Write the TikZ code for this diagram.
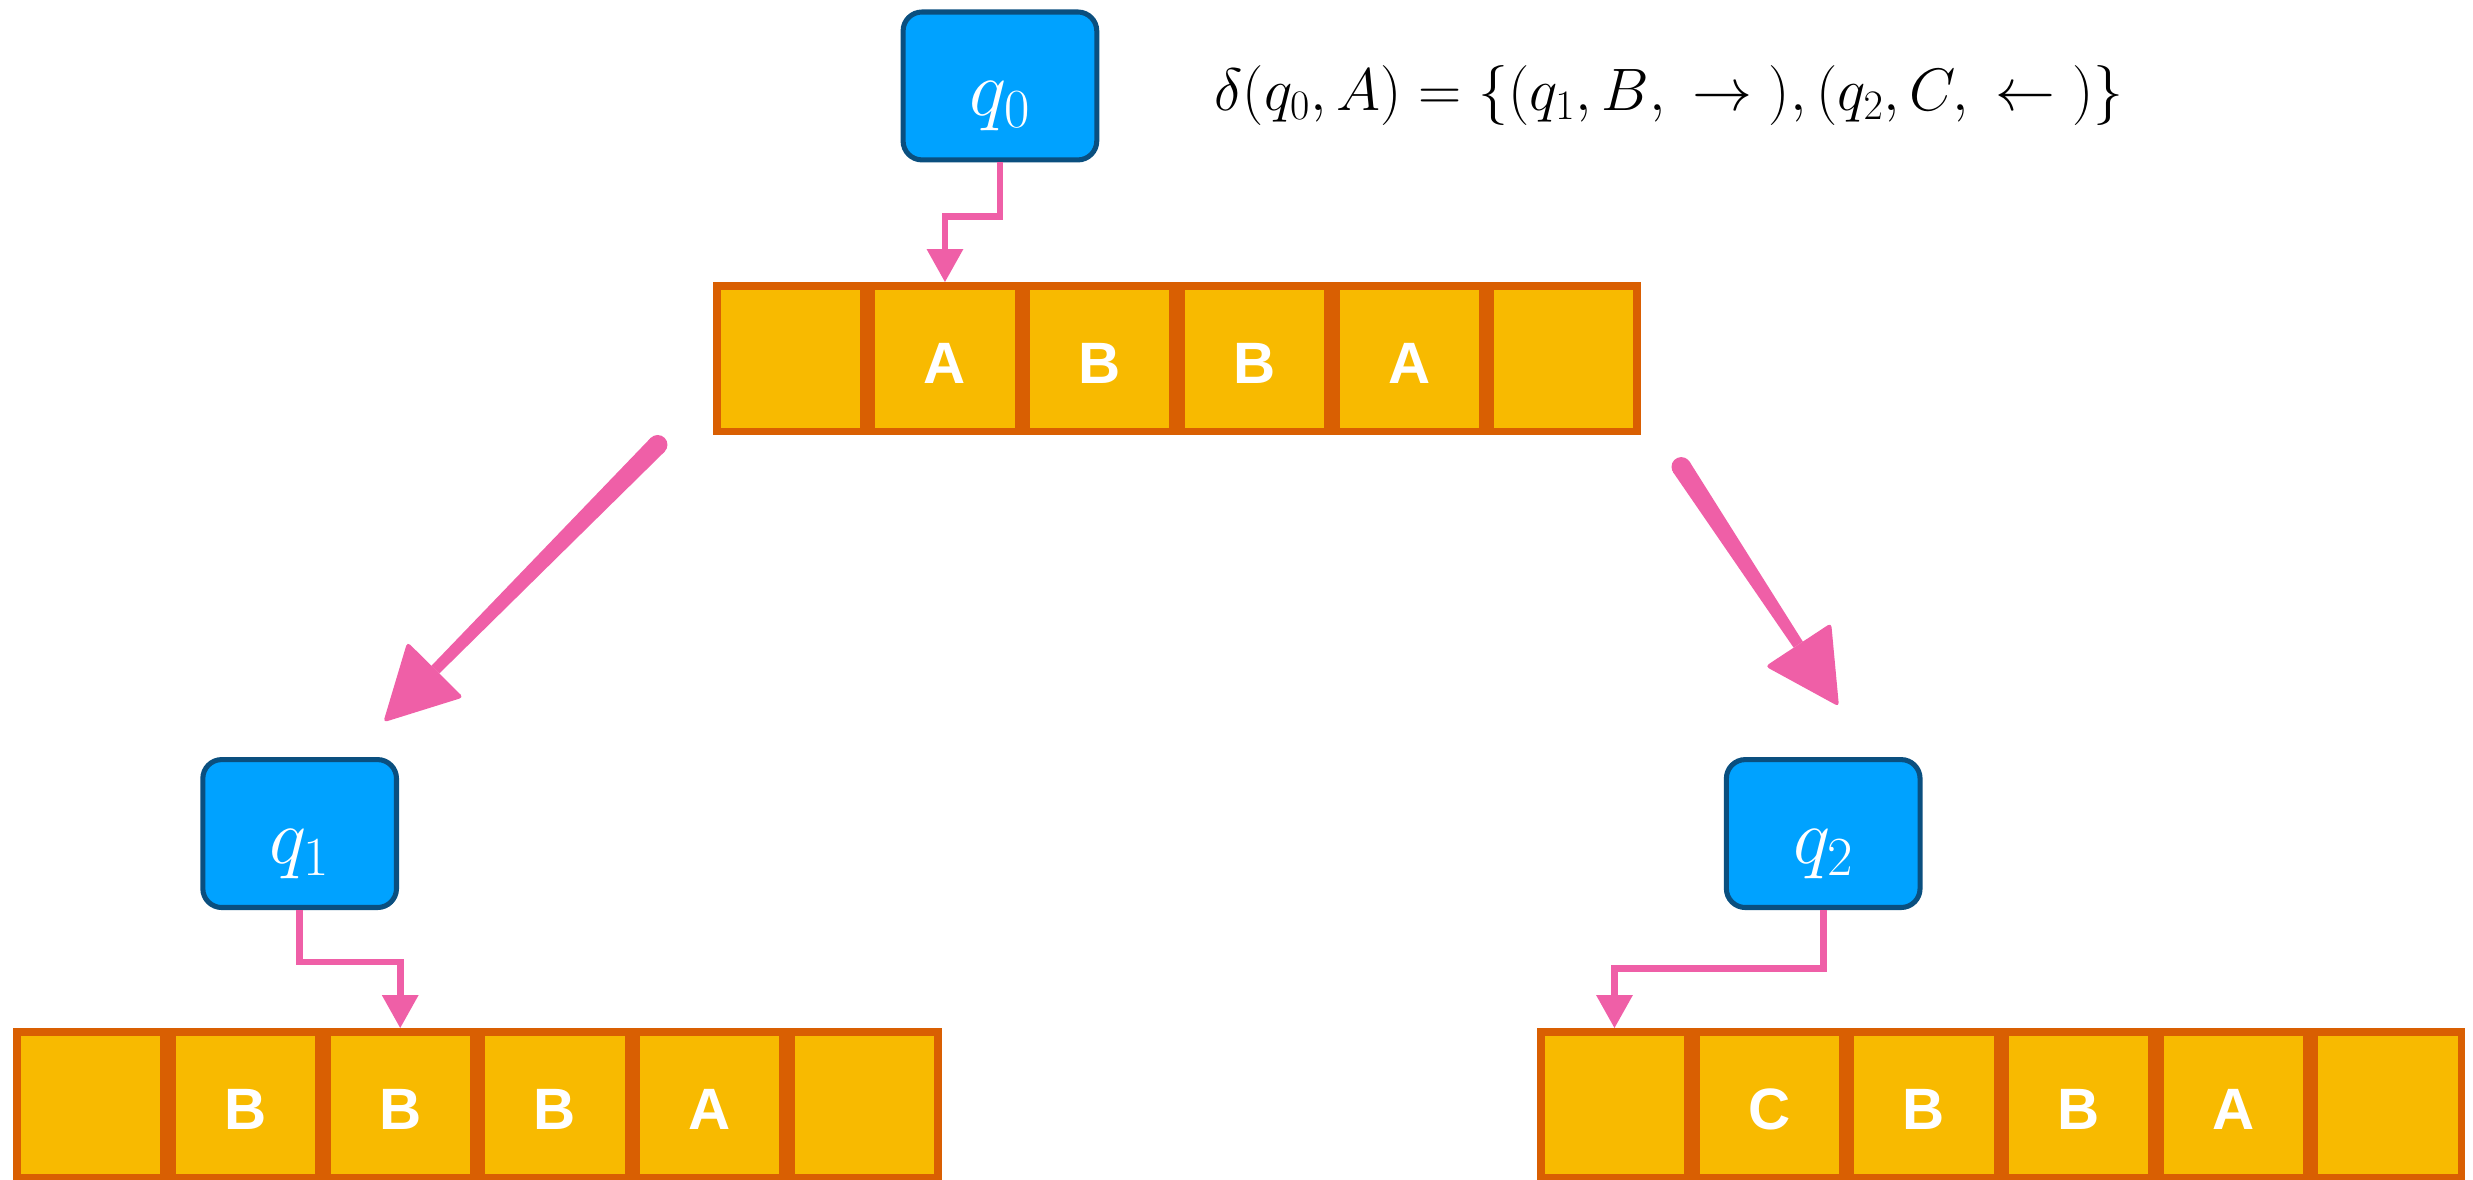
\RequirePackage{fix-cm}
\documentclass[tikz,border=0pt]{standalone}
\usepackage{fontspec}
\newfontfamily\cellfont{Liberation Sans}
\usetikzlibrary{arrows.meta,calc}

\definecolor{tapefill}{HTML}{F8BA00}
\definecolor{tapeedge}{HTML}{D95F02}
\definecolor{statefill}{HTML}{00A2FF}
\definecolor{stateedge}{HTML}{0A4F7F}
\definecolor{linkpink}{HTML}{EF5FA7}

\begin{document}
\begin{tikzpicture}[x=1pt,y=-1pt,
  tapecell/.style={draw=tapeedge, fill=tapefill, line width=4.9pt,
    minimum width=93.2pt, minimum height=92.1pt, inner sep=0pt,
    text=white, font=\cellfont\bfseries\fontsize{37}{37}\selectfont,
    text height=31.2pt, text depth=0pt},
  statebox/.style={draw=stateedge, fill=statefill, line width=3.2pt,
    rounded corners=12pt, minimum width=122.8pt, minimum height=93.8pt,
    inner sep=0pt, text=white, font=\fontsize{50}{50}\selectfont,
    text height=38pt, text depth=0pt},
  headlink/.style={draw=linkpink, line width=4.3pt,
    -{Triangle[width=22pt,length=21pt]}},
  brush/.style={fill=linkpink},
]
\useasboundingbox (0,0) rectangle (1568,748);

% transition function
\node[anchor=base west, inner sep=0pt, font=\fontsize{38}{38}\selectfont] (delta) at (770,70)
  {$\delta(q_0,A)=\{(q_1,B,\;{\rightarrow}\;),(q_2,C,\;{\leftarrow}\;)\}$};

% states
\node[statebox] (q0) at (634,54.5) {$q_0$};
\node[statebox] (q1) at (190,528.5) {$q_1$};
\node[statebox] (q2) at (1156,528.5) {$q_2$};

% tapes
\foreach \i/\s in {1/,2/A,3/B,4/B,5/A,6/}
  \node[tapecell] (t1-\i) at ({452+49.05+98.1*(\i-1)},227.5) {\s};
\foreach \i/\s in {1/,2/B,3/B,4/B,5/A,6/}
  \node[tapecell] (t2-\i) at ({8.5+49.05+98.1*(\i-1)},700.5) {\s};
\foreach \i/\s in {1/,2/C,3/B,4/B,5/A,6/}
  \node[tapecell] (t3-\i) at ({974.6+49.05+98.1*(\i-1)},700.5) {\s};

% read/write heads
\draw[headlink] (q0.south) -- ++(0,34.5) -| (t1-2.north);
\draw[headlink] (q1.south) -- ++(0,33) -| (t2-3.north);
\draw[headlink] (q2.south) -- ++(0,37) -| (t3-1.north);

% branching arrows, brush-stroke style
\coordinate (ls) at (417,282);
\coordinate (lt) at (243,458);
\coordinate (rs) at (1066,296);
\coordinate (rt) at (1166,448);
\foreach \s/\t in {ls/lt,rs/rt}{
  \coordinate (hb) at ($(\t)!47pt!(\s)$);
  \fill[brush] ($(\s)!6.2pt!90:(\t)$) -- ($(hb)!3.5pt!90:(\t)$)
     -- ($(hb)!3.5pt!-90:(\t)$) -- ($(\s)!6.2pt!-90:(\t)$) -- cycle;
  \fill[brush] (\s) circle (6.2pt);
  \fill[brush, rounded corners=2.5pt] (\t) -- ($(hb)!25pt!90:(\t)$)
     -- ($(hb)!25pt!-90:(\t)$) -- cycle;
}
\end{tikzpicture}
\end{document}
